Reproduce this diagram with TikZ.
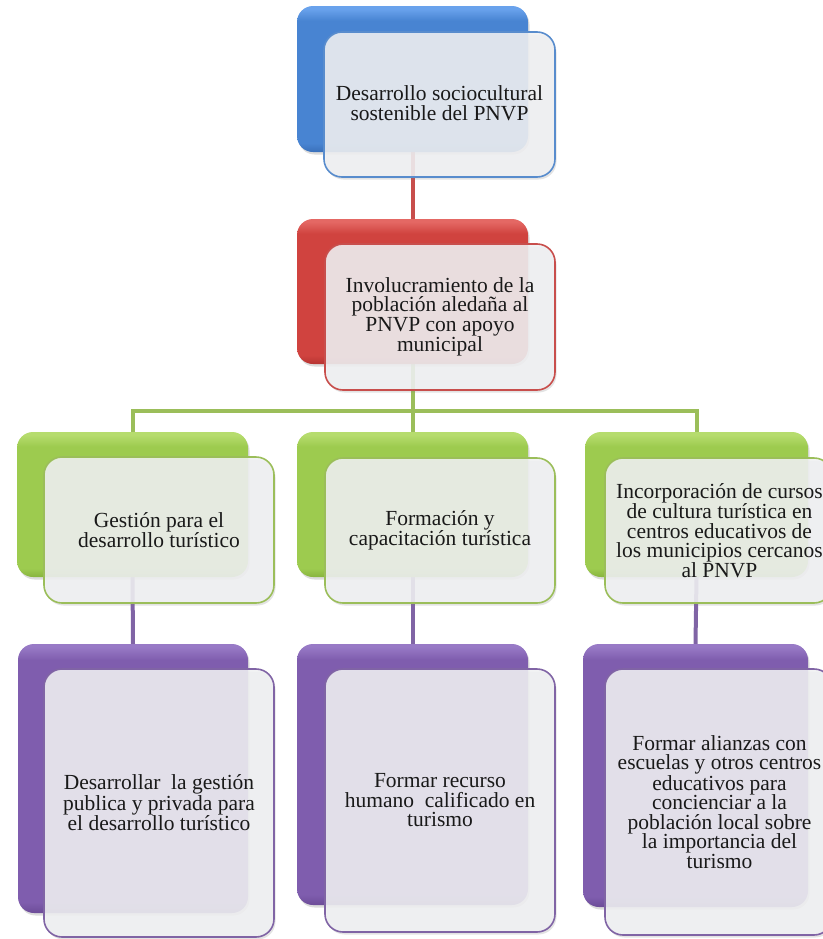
\documentclass[tikz,border=0pt]{standalone}
\usepackage{fontspec}
\setmainfont{Liberation Serif}
\usetikzlibrary{fit,shadows,backgrounds}
\definecolor{bluelight}{RGB}{105,162,236}
\definecolor{bluebase}{RGB}{72,132,210}
\definecolor{bluedark}{RGB}{58,112,186}
\definecolor{blueline}{RGB}{88,140,205}
\definecolor{redlight}{RGB}{228,104,100}
\definecolor{redbase}{RGB}{208,67,63}
\definecolor{reddark}{RGB}{182,52,50}
\definecolor{redline}{RGB}{200,78,76}
\definecolor{greenlight}{RGB}{182,220,110}
\definecolor{greenbase}{RGB}{157,203,79}
\definecolor{greendark}{RGB}{136,180,62}
\definecolor{greenline}{RGB}{155,190,90}
\definecolor{purplelight}{RGB}{152,122,198}
\definecolor{purplebase}{RGB}{127,93,174}
\definecolor{purpledark}{RGB}{108,76,152}
\definecolor{purpleline}{RGB}{128,100,165}
\definecolor{frontfill}{RGB}{240,241,243}
\definecolor{txt}{RGB}{25,25,25}
\pgfdeclareverticalshading{shblue}{100bp}{color(0bp)=(bluedark); color(25bp)=(bluedark); color(28bp)=(bluebase); color(70bp)=(bluebase); color(74bp)=(bluelight); color(100bp)=(bluelight)}
\pgfdeclareverticalshading{shred}{100bp}{color(0bp)=(reddark); color(25bp)=(reddark); color(28bp)=(redbase); color(70bp)=(redbase); color(74bp)=(redlight); color(100bp)=(redlight)}
\pgfdeclareverticalshading{shgreen}{100bp}{color(0bp)=(greendark); color(25bp)=(greendark); color(28bp)=(greenbase); color(70bp)=(greenbase); color(74bp)=(greenlight); color(100bp)=(greenlight)}
\pgfdeclareverticalshading{shpurple}{100bp}{color(0bp)=(purpledark); color(25bp)=(purpledark); color(27bp)=(purplebase); color(72bp)=(purplebase); color(74.5bp)=(purplelight); color(100bp)=(purplelight)}
\begin{document}
\begin{tikzpicture}[x=1bp,y=-1bp,
  backbox/.style={rounded corners=16bp, draw=none, inner sep=0pt,
    drop shadow={opacity=0.28, shadow xshift=1.5bp, shadow yshift=-2.5bp}},
  bblue/.style={backbox, shading=shblue},
  bred/.style={backbox, shading=shred},
  bgreen/.style={backbox, shading=shgreen},
  bpurple/.style={backbox, shading=shpurple},
  frontbox/.style={rounded corners=18bp, draw, line width=1.6bp, inner sep=0pt,
    fill=frontfill, fill opacity=0.88, text opacity=1, text=txt, align=center,
    drop shadow={opacity=0.22, shadow xshift=1.5bp, shadow yshift=-2.5bp}},
  label2/.style={text=txt, align=center, font=\fontsize{21.5bp}{20bp}\selectfont},
  label4/.style={text=txt, align=center, font=\fontsize{21.5bp}{19.5bp}\selectfont},
  conn/.style={line width=4bp}
]
\useasboundingbox (0,0) rectangle (823,939);

% level 1
\node[bblue, fit={(297,6) (528,152)}] (b1) {};
\node[frontbox, draw=blueline, fit={(324,32) (555,177)}] (f1) {};
\node[label2] (t1) at ([yshift=1.5bp]f1.center) {Desarrollo sociocultural\\sostenible del PNVP};

% level 2
\node[bred, fit={(297,219) (528,364)}] (b2) {};
\node[frontbox, draw=redline, fit={(325,244) (555,390)}] (f2) {};
\node[label4] (t2) at (f2.center) {Involucramiento de la\\población aledaña al\\PNVP con apoyo\\municipal};

% level 3
\node[bgreen, fit={(17,432) (248,577)}] (g1) {};
\node[frontbox, draw=greenline, fit={(44,457) (274,603)}] (h1) {};
\node[label2] (u1) at (h1.center) {Gestión para el\\desarrollo turístico};

\node[bgreen, fit={(297,432) (528,577)}] (g2) {};
\node[frontbox, draw=greenline, fit={(325,458) (555,603)}] (h2) {};
\node[label2] (u2) at (h2.center) {Formación y\\capacitación turística};

\node[bgreen, fit={(585,432) (808,577)}] (g3) {};
\node[frontbox, draw=greenline, fit={(605,458) (832,603)}] (h3) {};
\node[label4] (u3) at ([xshift=1bp]h3.center) {Incorporación de cursos\\de cultura turística en\\centros educativos de\\los municipios cercanos\\al PNVP};

% level 4
\node[bpurple, fit={(18,644) (248,913)}] (p1) {};
\node[frontbox, draw=purpleline, fit={(44,669) (274,937)}] (q1) {};
\node[label4] (v1) at (q1.center) {Desarrollar\ \ la gestión\\publica y privada para\\el desarrollo turístico};

\node[bpurple, fit={(297,644) (528,905)}] (p2) {};
\node[frontbox, draw=purpleline, fit={(325,669) (555,932)}] (q2) {};
\node[label4] (v2) at (q2.center) {Formar recurso\\humano\ \ calificado en\\turismo};

\node[bpurple, fit={(583,644) (808,907)}] (p3) {};
\node[frontbox, draw=purpleline, fit={(605,669) (832,935)}] (q3) {};
\node[label4] (v3) at ([xshift=1bp]q3.center) {Formar alianzas con\\escuelas y otros centros\\educativos para\\concienciar a la\\población local sobre\\la importancia del\\turismo};

% connectors
\coordinate (j) at (412.5,411);
\begin{scope}[on background layer]
\draw[conn, redline] (b1.south) -- (b2.north);
\draw[conn, greenline] (b2.south) -- (j);
\draw[conn, greenline] (g1.north) |- (j);
\draw[conn, greenline] (j) -| (g3.north);
\draw[conn, greenline] (j) -- (g2.north);
\draw[conn, purpleline] (g1.south) -- (p1.north);
\draw[conn, purpleline] (g2.south) -- (p2.north);
\draw[conn, purpleline] (g3.south) -- (p3.north);
\end{scope}
\end{tikzpicture}
\end{document}
